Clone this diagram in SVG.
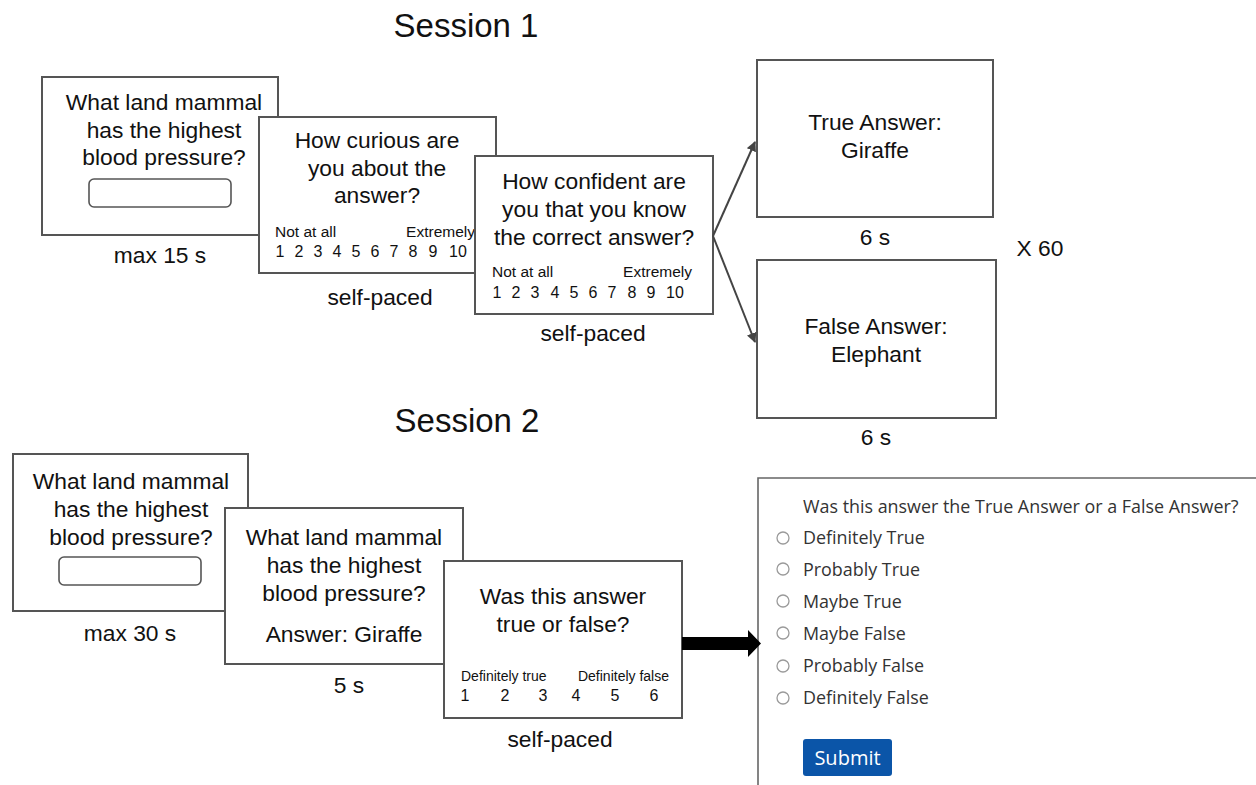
<svg xmlns="http://www.w3.org/2000/svg" width="1256" height="785" viewBox="0 0 1256 785">
<defs>
<style>
.box{fill:#fff;stroke:#555;stroke-width:2}
.inp{fill:#fff;stroke:#555;stroke-width:1.6}
.t{font-family:"Liberation Sans",Arial,sans-serif;font-size:22.8px;fill:#111;text-anchor:middle}
.s{font-family:"Liberation Sans",Arial,sans-serif;font-size:15.5px;fill:#111}
.n{font-family:"Liberation Sans",Arial,sans-serif;font-size:16px;fill:#111;text-anchor:middle}
.h{font-family:"Liberation Sans",Arial,sans-serif;font-size:33px;fill:#111;text-anchor:middle}
.f{font-family:"Open Sans","Noto Sans",sans-serif;font-size:17.9px;fill:#333}
.r{fill:#fff;stroke:#9a9a9a;stroke-width:1.3}
.c{fill:none;stroke:#444;stroke-width:2}
</style>
<marker id="ah" viewBox="0 0 10 10" refX="9" refY="5" markerWidth="5" markerHeight="5" orient="auto" markerUnits="strokeWidth">
<path d="M0,0 L10,5 L0,10 z" fill="#444"/>
</marker>
</defs>
<rect width="1256" height="785" fill="#fff"/>

<text class="h" x="466" y="37">Session 1</text>
<text class="h" x="467" y="432">Session 2</text>

<g id="s1-question">
<rect class="box" x="42" y="77" width="236" height="158"/>
<text class="t" x="164" y="110">What land mammal</text>
<text class="t" x="164" y="138">has the highest</text>
<text class="t" x="164" y="165">blood pressure?</text>
<rect class="inp" x="89" y="179" width="142" height="28" rx="5"/>
<text class="t" x="160" y="263">max 15 s</text>
</g>

<g id="s1-curious">
<rect class="box" x="259" y="117" width="237" height="156"/>
<text class="t" x="377" y="148">How curious are</text>
<text class="t" x="377" y="176">you about the</text>
<text class="t" x="377" y="203">answer?</text>
<text class="s" x="275" y="237">Not at all</text>
<text class="s" x="475" y="237" text-anchor="end">Extremely</text>
<text class="n" y="257"><tspan x="280">1</tspan><tspan x="299">2</tspan><tspan x="318">3</tspan><tspan x="337">4</tspan><tspan x="356">5</tspan><tspan x="375">6</tspan><tspan x="394">7</tspan><tspan x="413">8</tspan><tspan x="433">9</tspan><tspan x="458">10</tspan></text>
<text class="t" x="380" y="305">self-paced</text>
</g>

<g id="s1-confident">
<rect class="box" x="475" y="156" width="238" height="158"/>
<text class="t" x="594" y="189">How confident are</text>
<text class="t" x="594" y="217">you that you know</text>
<text class="t" x="594" y="245">the correct answer?</text>
<text class="s" x="492" y="277">Not at all</text>
<text class="s" x="692" y="277" text-anchor="end">Extremely</text>
<text class="n" y="298"><tspan x="497">1</tspan><tspan x="516">2</tspan><tspan x="535">3</tspan><tspan x="555">4</tspan><tspan x="574">5</tspan><tspan x="593">6</tspan><tspan x="612">7</tspan><tspan x="632">8</tspan><tspan x="651">9</tspan><tspan x="675">10</tspan></text>
<text class="t" x="593" y="341">self-paced</text>
</g>

<g id="s1-true">
<rect class="box" x="757" y="60" width="236" height="157"/>
<text class="t" x="875" y="130">True Answer:</text>
<text class="t" x="875" y="158">Giraffe</text>
<text class="t" x="875" y="245">6 s</text>
</g>

<g id="s1-false">
<rect class="box" x="757" y="260" width="239" height="158"/>
<text class="t" x="876" y="334">False Answer:</text>
<text class="t" x="876" y="362">Elephant</text>
<text class="t" x="876" y="445">6 s</text>
</g>

<text class="t" x="1040" y="256">X 60</text>

<g id="s2-question">
<rect class="box" x="13" y="454" width="235" height="157"/>
<text class="t" x="131" y="489">What land mammal</text>
<text class="t" x="131" y="517">has the highest</text>
<text class="t" x="131" y="545">blood pressure?</text>
<rect class="inp" x="59" y="557" width="142" height="28" rx="5"/>
<text class="t" x="130" y="641">max 30 s</text>
</g>

<g id="s2-answer">
<rect class="box" x="225" y="508" width="238" height="156"/>
<text class="t" x="344" y="545">What land mammal</text>
<text class="t" x="344" y="573">has the highest</text>
<text class="t" x="344" y="601">blood pressure?</text>
<text class="t" x="344" y="642">Answer: Giraffe</text>
<text class="t" x="349" y="693">5 s</text>
</g>

<g id="s2-truefalse">
<rect class="box" x="444" y="561" width="238" height="157"/>
<text class="t" x="563" y="604">Was this answer</text>
<text class="t" x="563" y="632">true or false?</text>
<text class="s" x="461" y="681" style="font-size:14px">Definitely true</text>
<text class="s" x="669" y="681" style="font-size:14px" text-anchor="end">Definitely false</text>
<text class="n" y="701"><tspan x="465">1</tspan><tspan x="505">2</tspan><tspan x="543">3</tspan><tspan x="576">4</tspan><tspan x="615">5</tspan><tspan x="654">6</tspan></text>
<text class="t" x="560" y="747">self-paced</text>
</g>

<g id="s2-form">
<path d="M758,785 V478 H1256" fill="none" stroke="#666" stroke-width="1.6"/>
<text class="f" x="803" y="513">Was this answer the True Answer or a False Answer?</text>
<circle class="r" cx="783" cy="538" r="6"/>
<circle class="r" cx="783" cy="569" r="6"/>
<circle class="r" cx="783" cy="601" r="6"/>
<circle class="r" cx="783" cy="633" r="6"/>
<circle class="r" cx="783" cy="666" r="6"/>
<circle class="r" cx="783" cy="698" r="6"/>
<text class="f" x="803" y="544">Definitely True</text>
<text class="f" x="803" y="576">Probably True</text>
<text class="f" x="803" y="608">Maybe True</text>
<text class="f" x="803" y="640">Maybe False</text>
<text class="f" x="803" y="672">Probably False</text>
<text class="f" x="803" y="704">Definitely False</text>
<rect x="803" y="739" width="89" height="37" rx="3" fill="#0b55a8"/>
<text x="847.5" y="765" text-anchor="middle" style="font-family:'Open Sans','Noto Sans',sans-serif;font-size:20px;fill:#fff">Submit</text>
</g>

<g id="connectors">
<line class="c" x1="713" y1="236" x2="755" y2="142" marker-end="url(#ah)"/>
<line class="c" x1="713" y1="236" x2="755" y2="342" marker-end="url(#ah)"/>
<path d="M682,637 H748 V630 L761,643.5 L748,657 V650 H682 z" fill="#000"/>
</g>
</svg>
